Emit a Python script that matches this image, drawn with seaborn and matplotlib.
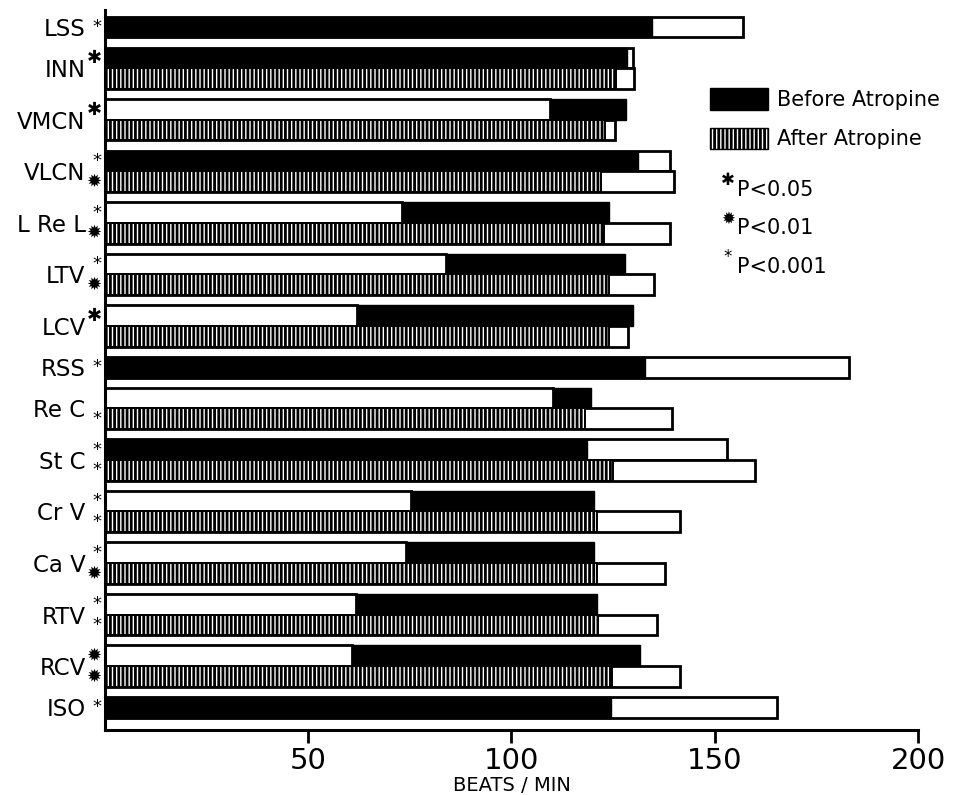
import numpy as np
import matplotlib
matplotlib.use('Agg')
import matplotlib.pyplot as plt
import matplotlib.transforms as mtransforms
from matplotlib.patches import Patch
import seaborn as sns

# --- Values (beats / min) ---
regions = ['LSS', 'INN', 'VMCN', 'VLCN', 'L Re L', 'LTV', 'LCV', 'RSS',
           'Re C', 'St C', 'Cr V', 'Ca V', 'RTV', 'RCV', 'ISO']

# Before atropine: solid bar and open bar, both starting at 0.
before_solid = [134.5, 128.3, 128.2, 131.0, 124.0, 128.0, 130.0, 132.8,
                119.5, 118.6, 120.3, 120.3, 121.0, 131.6, 124.5]
before_open = [157.0, 130.0, 109.5, 139.0, 73.0, 84.0, 62.0, 183.0,
               110.3, 153.0, 75.3, 74.0, 61.7, 60.8, 165.3]

# After atropine: hatched bar and open bar (nan = no after value).
nan = np.nan
after_solid = [nan, 125.7, 123.0, 122.0, 122.7, 124.0, 124.0, nan,
               118.0, 124.9, 121.0, 121.0, 121.3, 124.7, nan]
after_open = [nan, 130.1, 125.5, 140.0, 139.0, 135.0, 128.7, nan,
              139.5, 160.0, 141.5, 137.8, 135.8, 141.5, nan]

# Significance marks next to each bar.
before_sig = ['001', '05', '05', '001', '001', '001', '05', '001',
              '', '001', '001', '001', '001', '01', '001']
after_sig = ['', '', '', '01', '01', '01', '', '',
             '001', '001', '001', '01', '001', '01', '']

sig_labels = ['P<0.05', 'P<0.01', 'P<0.001']
sig_keys = ['05', '01', '001']
star_glyph = {'05': '\u2731', '01': '\u2739', '001': '*'}

# --- Style ---
sns.set_theme(style='ticks')
plt.rcParams['font.family'] = ['DejaVu Sans']
plt.rcParams['hatch.linewidth'] = 2.0
for key in ('text.color', 'axes.labelcolor', 'xtick.color', 'ytick.color'):
    plt.rcParams[key] = 'black'

# --- Row layout: bar height 1, half-bar gap between regions ---
GAP = 0.5
y = 0.33
pos_before, pos_after, centers = [], [], []
for a in after_solid:
    pos_before.append(y + 0.5)
    if np.isnan(a):
        pos_after.append(nan)
        centers.append(y + 0.5)
        y += 1
    else:
        pos_after.append(y + 1.5)
        centers.append(y + 1.0)
        y += 2
    y += GAP
y_bottom = y - GAP + 0.6

fig = plt.figure(figsize=(9.64, 7.95), dpi=100)
ax = fig.add_axes([0.1089, 0.0818, 0.8434, 0.9056])

open_kw = dict(facecolor='white', edgecolor='black', linewidth=2.0)
black_kw = dict(facecolor='black', edgecolor='black', linewidth=1.0)
hatch_kw = dict(facecolor='white', edgecolor='black', linewidth=1.4, hatch='||||')


def draw_bar(p, solid, opn, solid_kw):
    # the longer bar goes underneath so both stay visible
    if opn >= solid:
        ax.barh(p, opn, height=1.0, **open_kw)
        ax.barh(p, solid, height=1.0, **solid_kw)
    else:
        ax.barh(p, solid, height=1.0, **solid_kw)
        ax.barh(p, opn, height=1.0, **open_kw)


for i in range(len(regions)):
    draw_bar(pos_before[i], before_solid[i], before_open[i], black_kw)
    if not np.isnan(after_solid[i]):
        draw_bar(pos_after[i], after_solid[i], after_open[i], hatch_kw)

# significance stars just left of the axis
trans = mtransforms.blended_transform_factory(ax.transAxes, ax.transData)
for i in range(len(regions)):
    for sig, p in ((before_sig[i], pos_before[i]), (after_sig[i], pos_after[i])):
        if sig:
            ax.text(-0.004, p, star_glyph[sig], transform=trans, ha='right',
                    va='center', fontsize=13, clip_on=False)

ax.set_xlim(0, 200)
ax.set_ylim(y_bottom, 0)
ax.set_xticks([50, 100, 150, 200])
ax.set_yticks(centers)
ax.set_yticklabels(regions)
ax.tick_params(axis='x', direction='out', length=9, width=2, labelsize=21, pad=3)
ax.tick_params(axis='y', length=0, pad=14, labelsize=16.5)
ax.set_xlabel('BEATS / MIN', fontsize=14, labelpad=1)
ax.set_ylabel('')
sns.despine(ax=ax)
for side in ('left', 'bottom'):
    ax.spines[side].set_linewidth(2.2)
    ax.spines[side].set_color('black')

# legend
handles = [Patch(facecolor='black', edgecolor='black'),
           Patch(facecolor='white', edgecolor='black', hatch='||||')]
ax.legend(handles, ['Before Atropine', 'After Atropine'], loc='upper left',
          bbox_to_anchor=(0.7365, 0.889), bbox_transform=fig.transFigure,
          frameon=False, prop={'family': 'DejaVu Sans', 'size': 15},
          handlelength=2.8, handleheight=1.2, labelspacing=0.85,
          handletextpad=0.4, borderpad=0, borderaxespad=0)

for k, (key, lab) in enumerate(zip(sig_keys, sig_labels)):
    yy = 1 - (190 + 38.5 * k) / 795
    fig.text(0.7552, yy + 0.012, star_glyph[key], ha='center', va='center', fontsize=12)
    fig.text(0.7645, yy, lab, ha='left', va='center', fontsize=15)

fig.savefig('out.png', dpi=100)
